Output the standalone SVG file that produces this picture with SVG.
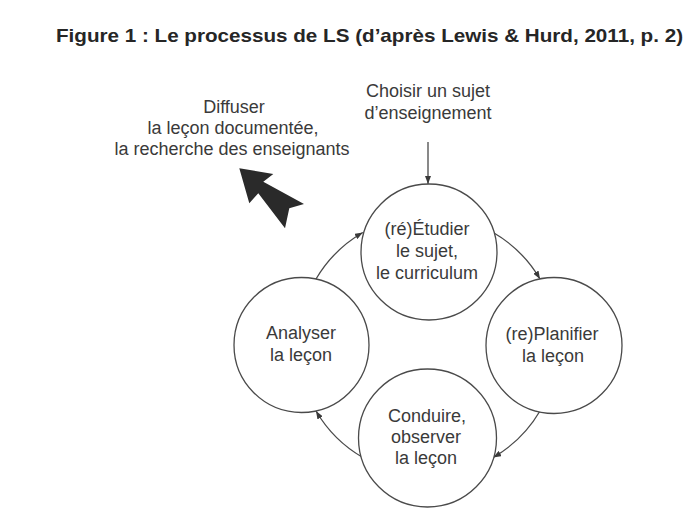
<svg xmlns="http://www.w3.org/2000/svg" width="698" height="528" viewBox="0 0 698 528">
  <defs>
    <style>
      .bg { fill: #ffffff; }
      .node circle { fill: #ffffff; stroke: #4a4a4a; stroke-width: 1.3; }
      .lbl { font-family: "Liberation Sans", Arial, sans-serif; font-size: 18px; fill: #3a3a3a; text-anchor: middle; }
      .title { font-family: "Liberation Sans", Arial, sans-serif; font-size: 19px; font-weight: bold; fill: #262626; }
      .conn path, .conn line { fill: none; stroke: #4a4a4a; stroke-width: 1.3; }
    </style>
    <marker id="ah" viewBox="0 0 8 6" refX="8" refY="3" markerWidth="8" markerHeight="6" markerUnits="userSpaceOnUse" orient="auto">
      <path d="M0,0 L8,3 L0,6 z" fill="#3a3a3a"/>
    </marker>
  </defs>
  <rect class="bg" x="0" y="0" width="698" height="528"/>

  <text class="title" x="56" y="42" textLength="627" lengthAdjust="spacingAndGlyphs">Figure 1 : Le processus de LS (d’après Lewis &amp; Hurd, 2011, p. 2)</text>

  <g id="connectors" class="conn">
    <line x1="428" y1="142" x2="428" y2="184" marker-end="url(#ah)"/>
    <path d="M316,279 A130,130 0 0 1 362.8,232.5" marker-end="url(#ah)"/>
    <path d="M493.2,232.5 A130,130 0 0 1 540,279" marker-end="url(#ah)"/>
    <path d="M540,411 A130,130 0 0 1 493.2,457.5" marker-end="url(#ah)"/>
    <path d="M362.8,457.5 A130,130 0 0 1 316,411" marker-end="url(#ah)"/>
  </g>

  <g id="diffuse-arrow">
    <polygon points="239.3,168.3 273.3,174 263.3,181.7 304,204 289.3,208.3 285,228.3 258.3,193.3 249.3,203.3" fill="#2a2a2a"/>
  </g>

  <g id="choisir">
    <text class="lbl" x="428" y="97">Choisir un sujet</text>
    <text class="lbl" x="428" y="119">d’enseignement</text>
  </g>

  <g id="diffuser">
    <text class="lbl" x="234" y="113">Diffuser</text>
    <text class="lbl" x="233" y="134">la leçon documentée,</text>
    <text class="lbl" x="232" y="155">la recherche des enseignants</text>
  </g>

  <g id="etudier" class="node">
    <circle cx="429" cy="252" r="68"/>
    <text class="lbl" x="427" y="235">(ré)Étudier</text>
    <text class="lbl" x="427" y="257">le sujet,</text>
    <text class="lbl" x="427" y="279">le curriculum</text>
  </g>

  <g id="planifier" class="node">
    <circle cx="554" cy="345.5" r="68"/>
    <text class="lbl" x="552" y="340">(re)Planifier</text>
    <text class="lbl" x="553" y="362">la leçon</text>
  </g>

  <g id="conduire" class="node">
    <circle cx="427.5" cy="438" r="69"/>
    <text class="lbl" x="427" y="422">Conduire,</text>
    <text class="lbl" x="426" y="443">observer</text>
    <text class="lbl" x="426" y="464">la leçon</text>
  </g>

  <g id="analyser" class="node">
    <circle cx="301.5" cy="345" r="67.5"/>
    <text class="lbl" x="301" y="339">Analyser</text>
    <text class="lbl" x="301" y="361">la leçon</text>
  </g>
</svg>
